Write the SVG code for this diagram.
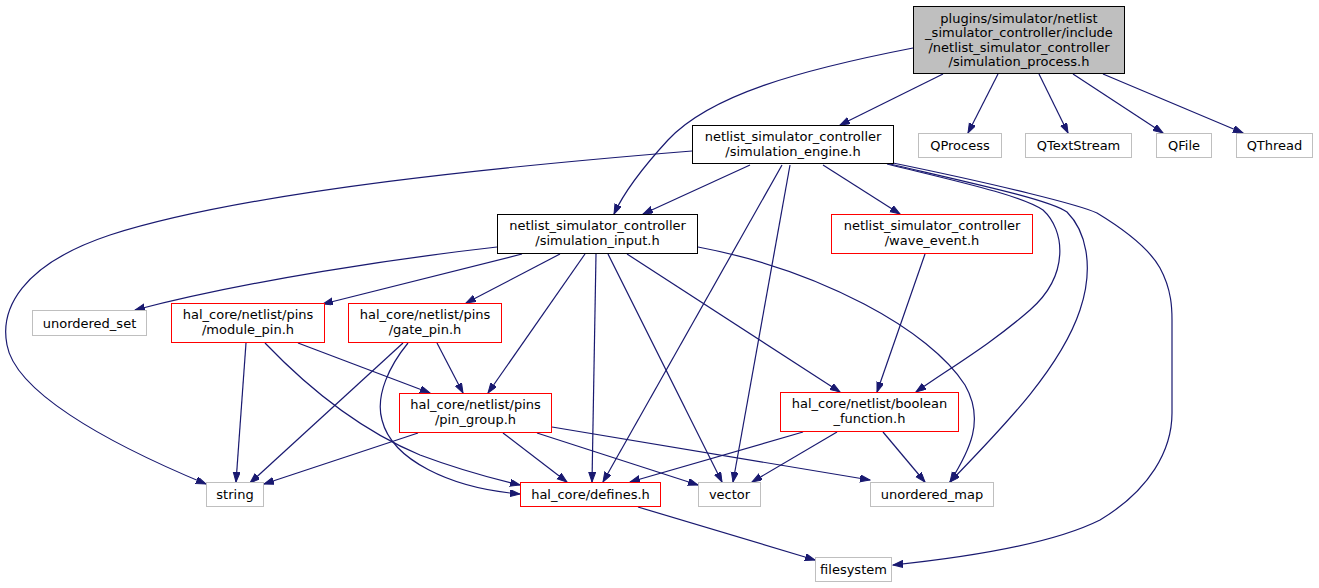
<svg xmlns="http://www.w3.org/2000/svg" width="1319" height="588" viewBox="0 0 1319 588">
<style>
.n rect{fill:#fff;stroke-width:1}
.blk rect{stroke:#000}
.red rect{stroke:#ff0000}
.gry rect{stroke:#bfbfbf}
.root rect{fill:#bfbfbf;stroke:#000}
text{font-family:"DejaVu Sans","Liberation Sans",sans-serif;font-size:13px;fill:#000;text-anchor:middle}
#edges path{fill:none;stroke:#191970;stroke-width:1.2;marker-end:url(#ah)}
</style>
<defs>
<marker id="ah" markerUnits="userSpaceOnUse" markerWidth="11" markerHeight="8" refX="10" refY="3.5" orient="auto">
<path d="M0,0 L10,3.5 L0,7 z" fill="#191970" stroke="#191970" stroke-width="1"/>
</marker>
</defs>
<rect width="1319" height="588" fill="#fff"/>
<g id="edges">
<path d="M913,48 C800,70 710,95 668,140 C645,165 625,190 614,214"/>
<path d="M943,74 L840,125"/>
<path d="M998,74 L968,133"/>
<path d="M1039,74 L1068,133"/>
<path d="M1073,74 L1163,133"/>
<path d="M1103,74 L1243,133"/>
<path d="M692,151 C520,165 250,190 110,235 C20,265 0,310 7,345 C15,390 100,440 206,484"/>
<path d="M750,165 L643,214"/>
<path d="M782,165 L603,482"/>
<path d="M790,165 L733,482"/>
<path d="M823,165 L900,214"/>
<path d="M887,164 C960,182 1020,195 1043,210 C1065,230 1070,275 1030,310 C990,345 950,368 916,392"/>
<path d="M890,164 C980,185 1050,200 1067,212 C1085,230 1095,265 1080,310 C1060,370 1000,430 950,482"/>
<path d="M893,163 C1000,185 1080,205 1097,213 C1130,233 1150,250 1160,268 C1172,290 1172,310 1172,320 L1172,413 C1172,450 1150,490 1100,520 C1050,545 960,558 893,565"/>
<path d="M497,247 C400,258 250,280 135,310"/>
<path d="M522,254 L323,304"/>
<path d="M560,254 L466,303"/>
<path d="M585,254 L488,393"/>
<path d="M596,254 L592,482"/>
<path d="M608,254 L722,482"/>
<path d="M627,254 L840,392"/>
<path d="M698,247 C820,270 930,330 965,385 C985,420 970,450 950,482"/>
<path d="M246,343 L236,482"/>
<path d="M298,343 L430,393"/>
<path d="M265,343 C310,390 360,430 420,455 C460,470 490,478 520,485"/>
<path d="M403,343 L250,483"/>
<path d="M437,343 L463,393"/>
<path d="M408,343 C390,365 375,395 382,420 C392,460 450,488 520,494"/>
<path d="M418,433 L264,484"/>
<path d="M503,433 L567,482"/>
<path d="M537,433 L698,485"/>
<path d="M552,427 L870,480"/>
<path d="M803,432 L630,482"/>
<path d="M837,432 L752,482"/>
<path d="M883,432 L925,482"/>
<path d="M925,254 L877,392"/>
<path d="M638,507 L815,560"/>
</g>
<g id="node-process" class="n root"><rect x="913.5" y="6.5" width="211" height="67"/>
<text x="1019" y="22.5">plugins/simulator/netlist</text><text x="1019" y="37">_simulator_controller/include</text><text x="1019" y="51.5">/netlist_simulator_controller</text><text x="1019" y="66">/simulation_process.h</text></g>
<g id="node-qprocess" class="n gry"><rect x="918.5" y="133.5" width="83" height="24"/><text x="960" y="150">QProcess</text></g>
<g id="node-qtextstream" class="n gry"><rect x="1025.5" y="133.5" width="106" height="24"/><text x="1078.5" y="150">QTextStream</text></g>
<g id="node-qfile" class="n gry"><rect x="1156.5" y="133.5" width="55" height="24"/><text x="1184" y="150">QFile</text></g>
<g id="node-qthread" class="n gry"><rect x="1236.5" y="133.5" width="76" height="24"/><text x="1274.5" y="150">QThread</text></g>
<g id="node-engine" class="n blk"><rect x="692.5" y="125.5" width="201" height="38"/><text x="793" y="141">netlist_simulator_controller</text><text x="793" y="156">/simulation_engine.h</text></g>
<g id="node-input" class="n blk"><rect x="497.5" y="214.5" width="200" height="39"/><text x="597.5" y="230">netlist_simulator_controller</text><text x="597.5" y="245">/simulation_input.h</text></g>
<g id="node-wave" class="n red"><rect x="831.5" y="214.5" width="201" height="39"/><text x="932" y="230">netlist_simulator_controller</text><text x="932" y="245">/wave_event.h</text></g>
<g id="node-uset" class="n gry"><rect x="32.5" y="310.5" width="114" height="25"/><text x="89.5" y="327.5">unordered_set</text></g>
<g id="node-module" class="n red"><rect x="171.5" y="303.5" width="153" height="39"/><text x="248" y="319">hal_core/netlist/pins</text><text x="248" y="334">/module_pin.h</text></g>
<g id="node-gate" class="n red"><rect x="348.5" y="303.5" width="153" height="39"/><text x="425" y="319">hal_core/netlist/pins</text><text x="425" y="334">/gate_pin.h</text></g>
<g id="node-pingroup" class="n red"><rect x="399.5" y="393.5" width="152" height="39"/><text x="475.5" y="409">hal_core/netlist/pins</text><text x="475.5" y="424">/pin_group.h</text></g>
<g id="node-boolean" class="n red"><rect x="780.5" y="392.5" width="178" height="39"/><text x="869.5" y="408">hal_core/netlist/boolean</text><text x="869.5" y="423">_function.h</text></g>
<g id="node-string" class="n gry"><rect x="206.5" y="482.5" width="57" height="24"/><text x="235" y="498.5">string</text></g>
<g id="node-defines" class="n red"><rect x="520.5" y="482.5" width="140" height="24"/><text x="590.5" y="498.5">hal_core/defines.h</text></g>
<g id="node-vector" class="n gry"><rect x="698.5" y="482.5" width="62" height="24"/><text x="729.5" y="498.5">vector</text></g>
<g id="node-umap" class="n gry"><rect x="870.5" y="482.5" width="123" height="24"/><text x="932" y="498.5">unordered_map</text></g>
<g id="node-filesystem" class="n gry"><rect x="815.5" y="557.5" width="76" height="24"/><text x="853.5" y="574">filesystem</text></g>
</svg>
